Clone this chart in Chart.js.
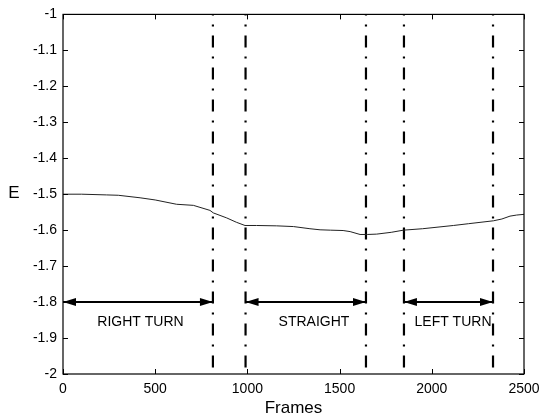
<!DOCTYPE html>
<html lang="en">
<head>
    <meta charset="UTF-8">
    <title>E vs Frames</title>
    <style>
        html, body {
            margin: 0;
            padding: 0;
            background: #fff;
            overflow: hidden;
        }
        .wrap {
            width: 554px;
            height: 419px;
        }
    </style>
    <script src="https://cdn.jsdelivr.net/npm/chart.js"></script>
</head>
<body>
<div class="wrap"><canvas id="chart" width="554" height="419"></canvas></div>

<script>
    // curve E(frame)
    const frames = [0, 100, 237, 300, 418, 500, 616, 707, 797, 815, 888, 940, 987, 1050, 1159, 1250, 1339, 1394, 1450, 1519, 1557, 1611, 1650, 1701, 1780, 1846, 1950, 2117, 2200, 2334, 2380, 2424, 2460, 2500];
    const energy = [-1.500, -1.500, -1.502, -1.503, -1.510, -1.516, -1.528, -1.531, -1.545, -1.552, -1.566, -1.578, -1.587, -1.587, -1.588, -1.590, -1.596, -1.599, -1.600, -1.601, -1.604, -1.612, -1.612, -1.611, -1.606, -1.600, -1.596, -1.587, -1.582, -1.574, -1.569, -1.561, -1.558, -1.556];

    // segment boundaries (dash-dot verticals)
    const boundaries = [813, 990, 1643, 1849, 2332];

    // double arrows at E = -1.8
    const arrowLevel = -1.8;
    const segStarts = [0, 990, 1849];
    const segEnds = [813, 1643, 2332];
    const segLabels = ['RIGHT TURN', 'STRAIGHT', 'LEFT TURN'];
    const labelX = [420, 1361, 2115];
    const labelY = -1.857;

    const xTicks = [0, 500, 1000, 1500, 2000, 2500];
    const yTicks = [-1, -1.1, -1.2, -1.3, -1.4, -1.5, -1.6, -1.7, -1.8, -1.9, -2];

    const FONT = '"Liberation Sans", Arial, sans-serif';
    const INK = '#000';

    const datasets = [];
    datasets.push({
        data: frames.map((f, i) => ({ x: f, y: energy[i] })),
        borderColor: '#222',
        borderWidth: 1,
        pointRadius: 0,
        showLine: true,
        tension: 0
    });
    boundaries.forEach(b => {
        datasets.push({
            data: [{ x: b, y: -1 }, { x: b, y: -2 }],
            borderColor: INK,
            borderWidth: 2.2,
            borderDash: [12, 9, 2, 9],
            borderDashOffset: 11,
            pointRadius: 0,
            showLine: true
        });
    });
    segStarts.forEach((s, i) => {
        datasets.push({
            data: [{ x: s, y: arrowLevel }, { x: segEnds[i], y: arrowLevel }],
            borderColor: INK,
            borderWidth: 2,
            pointRadius: 0,
            showLine: true
        });
    });

    // arrow heads, labels, box and inward ticks
    const decorations = {
        id: 'decorations',
        afterDatasetsDraw(chart) {
            const ctx = chart.ctx;
            const xs = chart.scales.x, ys = chart.scales.y;
            const a = chart.chartArea;
            ctx.save();

            // arrow heads
            ctx.fillStyle = INK;
            const head = (tipX, y, dir) => {
                ctx.beginPath();
                ctx.moveTo(tipX, y);
                ctx.lineTo(tipX - dir * 13, y - 4);
                ctx.lineTo(tipX - dir * 13, y + 4);
                ctx.closePath();
                ctx.fill();
            };
            segStarts.forEach((s, i) => {
                const y = ys.getPixelForValue(arrowLevel);
                head(xs.getPixelForValue(s), y, -1);
                head(xs.getPixelForValue(segEnds[i]), y, 1);
            });

            // segment labels
            ctx.font = '14px ' + FONT;
            ctx.textAlign = 'center';
            ctx.textBaseline = 'middle';
            segLabels.forEach((t, i) => {
                ctx.fillText(t, xs.getPixelForValue(labelX[i]), ys.getPixelForValue(labelY));
            });

            // axis titles
            ctx.font = '17px ' + FONT;
            ctx.fillText('E', 14, ys.getPixelForValue(-1.5) - 1);
            ctx.fillText('Frames', (a.left + a.right) / 2, 408);

            // frame
            ctx.strokeStyle = INK;
            ctx.lineWidth = 1.2;
            ctx.strokeRect(a.left, a.top, a.right - a.left, a.bottom - a.top);

            // inward ticks
            ctx.beginPath();
            xTicks.forEach(v => {
                const x = Math.round(xs.getPixelForValue(v)) + 0.5;
                ctx.moveTo(x, a.bottom); ctx.lineTo(x, a.bottom - 5);
                ctx.moveTo(x, a.top); ctx.lineTo(x, a.top + 5);
            });
            yTicks.forEach(v => {
                const y = Math.round(ys.getPixelForValue(v)) + 0.5;
                ctx.moveTo(a.left, y); ctx.lineTo(a.left + 5, y);
                ctx.moveTo(a.right, y); ctx.lineTo(a.right - 5, y);
            });
            ctx.lineWidth = 1;
            ctx.stroke();
            ctx.restore();
        }
    };

    new Chart(document.getElementById('chart'), {
        type: 'scatter',
        data: { datasets: datasets },
        options: {
            responsive: false,
            animation: false,
            layout: { padding: { top: 11, right: 30, left: 0, bottom: 0 } },
            plugins: {
                legend: { display: false },
                tooltip: { enabled: false }
            },
            scales: {
                x: {
                    type: 'linear',
                    min: 0,
                    max: 2500,
                    afterBuildTicks: s => { s.ticks = xTicks.map(v => ({ value: v })); },
                    afterFit: s => { s.height = 45; },
                    grid: { display: false, drawTicks: false },
                    border: { display: false },
                    ticks: {
                        color: INK,
                        padding: 7,
                        maxRotation: 0,
                        font: { family: FONT, size: 14 },
                        callback: v => String(v)
                    }
                },
                y: {
                    type: 'linear',
                    min: -2,
                    max: -1,
                    afterBuildTicks: s => { s.ticks = yTicks.map(v => ({ value: v })); },
                    afterFit: s => { s.width = 63; },
                    grid: { display: false, drawTicks: false },
                    border: { display: false },
                    ticks: {
                        color: INK,
                        padding: 6,
                        font: { family: FONT, size: 14 },
                        callback: v => String(+(+v).toFixed(1))
                    }
                }
            }
        },
        plugins: [decorations]
    });
</script>
</body>
</html>
